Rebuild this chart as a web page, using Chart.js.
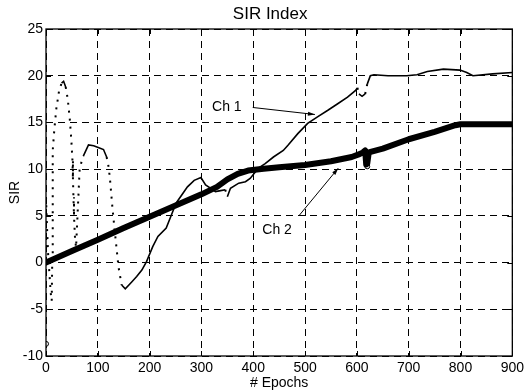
<!DOCTYPE html>
<html>
<head>
<meta charset="utf-8">
<script src="https://cdn.jsdelivr.net/npm/chart.js@4"></script>
<style>
  html, body { margin: 0; padding: 0; background: #fff; }
  #wrap { width: 528px; height: 392px; }
</style>
</head>
<body>
<div id="wrap"><canvas id="sirChart"></canvas></div>
<script>
// Ch 1 (thin line, dotted where it moves fast)
const ch1X = [0, 2, 4, 7, 9, 11, 12, 13, 16, 20, 25, 30, 34, 38, 42, 46, 49, 51, 52, 53, 54, 56, 58,
  65, 72, 82, 92, 102, 111, 117, 121, 124, 128, 133, 140, 146, 153, 165, 175, 185, 194, 206, 216,
  232, 242, 251, 264, 273, 286, 299, 308, 318, 327, 337, 346, 350, 356, 372, 385, 394, 404, 410,
  423, 439, 458, 467, 486, 505, 524, 544, 563, 582, 597, 601, 604, 610, 616, 620, 626, 633, 660,
  696, 716, 736, 767, 799, 812, 824, 862, 900];
const ch1Y = [7.0, 3.7, 1.0, -1.5, -3.2, -4.1, 0, 12.0, 14.2, 16.5, 18.3, 19.2, 19.4, 18.8, 17.5, 15.3, 13.0, 11.0, 9.0, 7.0, 5.0, 2.6, 1.6,
  10.1, 11.4, 12.6, 12.5, 12.3, 12.1, 11.3, 10.2, 8.6, 6.0, 3.2, -0.5, -2.4, -2.8, -2.1, -1.5, -0.8, 0.1, 1.7, 2.8,
  3.7, 5.1, 6.35, 7.4, 8.1, 8.8, 9.1, 8.3, 7.95, 7.6, 7.7, 7.8, 7.05, 7.95, 8.5, 8.65, 9.0, 9.7, 10.1,
  10.6, 11.3, 12.0, 12.55, 13.8, 14.9, 15.6, 16.3, 17.0, 17.7, 18.4, 18.7, 18.05, 17.8, 18.05, 19.1, 20.0, 20.1, 20.0,
  20.0, 20.1, 20.45, 20.7, 20.6, 20.35, 20.0, 20.2, 20.35];

// Ch 2 (thick line)
const ch2X = [0, 50, 100, 150, 200, 250, 300, 330, 350, 370, 390, 420, 450, 500, 550, 590, 605, 612,
  616, 618, 620, 623, 650, 700, 750, 790, 800, 900];
const ch2Y = [0, 1.25, 2.45, 3.7, 4.9, 6.1, 7.3, 8.1, 8.9, 9.5, 9.85, 10.05, 10.2, 10.45, 10.85, 11.3, 11.6, 11.8,
  12.0, 10.5, 10.6, 11.8, 12.2, 13.2, 14.0, 14.7, 14.8, 14.8];

// small "o" markers
const markX = [0, 620];
const markY = [-8.7, 10.3];

const xTicks = [0, 100, 200, 300, 400, 500, 600, 700, 800, 900];
const yTicks = [-10, -5, 0, 5, 10, 15, 20, 25];

// text labels with arrows: [text, textX, textY, fromX, fromY, toX, toY]
const notes = [
  ['Ch 1', 349, 16.6, 399, 16.6, 519, 15.85],
  ['Ch 2', 446, 3.5, 488, 5.0, 564, 10.1]
];

const pts = (xs, ys) => xs.map((x, i) => ({ x: x, y: ys[i] }));
const FONT = '"Liberation Sans", Arial, Helvetica, sans-serif';

// title, box, inward ticks, arrows
const matlabBox = {
  id: 'matlabBox',
  afterDatasetsDraw(chart) {
    const { ctx, chartArea: a, scales: { x, y } } = chart;
    ctx.save();
    ctx.strokeStyle = '#000';
    ctx.lineWidth = 1.3;
    ctx.strokeRect(a.left, a.top, a.width, a.height);
    ctx.lineWidth = 1;
    ctx.beginPath();
    xTicks.forEach(v => {
      const px = Math.round(x.getPixelForValue(v)) + 0.5;
      ctx.moveTo(px, a.bottom); ctx.lineTo(px, a.bottom - 5);
      ctx.moveTo(px, a.top); ctx.lineTo(px, a.top + 5);
    });
    yTicks.forEach(v => {
      const py = Math.round(y.getPixelForValue(v)) + 0.5;
      ctx.moveTo(a.left, py); ctx.lineTo(a.left + 5, py);
      ctx.moveTo(a.right, py); ctx.lineTo(a.right - 5, py);
    });
    ctx.stroke();

    ctx.fillStyle = '#000';
    ctx.textAlign = 'center';
    ctx.textBaseline = 'middle';
    ctx.font = '17px ' + FONT;
    ctx.fillText('SIR Index', (a.left + a.right) / 2 - 9, 14);

    ctx.font = '14px ' + FONT;
    notes.forEach(n => {
      ctx.fillText(n[0], x.getPixelForValue(n[1]), y.getPixelForValue(n[2]));
      const x0 = x.getPixelForValue(n[3]), y0 = y.getPixelForValue(n[4]);
      const x1 = x.getPixelForValue(n[5]), y1 = y.getPixelForValue(n[6]);
      ctx.beginPath();
      ctx.moveTo(x0, y0); ctx.lineTo(x1, y1);
      ctx.stroke();
      const ang = Math.atan2(y1 - y0, x1 - x0);
      ctx.beginPath();
      ctx.moveTo(x1, y1);
      ctx.lineTo(x1 - 7 * Math.cos(ang) + 2 * Math.sin(ang), y1 - 7 * Math.sin(ang) - 2 * Math.cos(ang));
      ctx.lineTo(x1 - 7 * Math.cos(ang) - 2 * Math.sin(ang), y1 - 7 * Math.sin(ang) + 2 * Math.cos(ang));
      ctx.closePath();
      ctx.fill();
    });
    ctx.restore();
  }
};

// dotted where the line is steep on screen
const isSteep = ctx => Math.abs(ctx.p1.y - ctx.p0.y) > 3 * Math.abs(ctx.p1.x - ctx.p0.x);

new Chart(document.getElementById('sirChart'), {
  type: 'line',
  data: {
    datasets: [{
      label: 'Ch 2',
      data: pts(ch2X, ch2Y),
      borderColor: '#000',
      borderWidth: 6,
      borderJoinStyle: 'round',
      borderCapStyle: 'round',
      pointRadius: 0,
      tension: 0
    }, {
      label: 'Ch 1',
      data: pts(ch1X, ch1Y),
      borderColor: '#000',
      borderWidth: 1.6,
      pointRadius: 0,
      tension: 0,
      segment: {
        borderDash: ctx => isSteep(ctx) ? [2, 6] : undefined,
        borderWidth: ctx => isSteep(ctx) ? 2 : undefined
      }
    }, {
      label: 'markers',
      data: pts(markX, markY),
      showLine: false,
      pointStyle: 'circle',
      pointRadius: 2.5,
      pointBorderWidth: 1,
      pointBorderColor: '#000',
      pointBackgroundColor: '#fff'
    }]
  },
  options: {
    responsive: true,
    maintainAspectRatio: false,
    animation: false,
    layout: { padding: { left: 0, right: 12, top: 29, bottom: 0 } },
    plugins: {
      legend: { display: false },
      tooltip: { enabled: false },
      title: { display: false }
    },
    scales: {
      x: {
        type: 'linear',
        min: 0, max: 900,
        afterBuildTicks: s => { s.ticks = xTicks.map(v => ({ value: v })); },
        afterFit: s => { s.height = 36; },
        grid: { color: '#000', lineWidth: 1, drawTicks: false },
        border: { display: false, dash: [7, 5] },
        ticks: { color: '#000', padding: 4, maxRotation: 0, font: { family: FONT, size: 14 } },
        title: { display: true, text: '# Epochs', color: '#000', padding: { top: 0, bottom: 0 }, font: { family: FONT, size: 14 } }
      },
      y: {
        type: 'linear',
        min: -10, max: 25,
        afterBuildTicks: s => { s.ticks = yTicks.map(v => ({ value: v })); },
        afterFit: s => { s.width = 46; },
        grid: { color: '#000', lineWidth: 1, drawTicks: false },
        border: { display: false, dash: [7, 5] },
        ticks: { color: '#000', padding: 3, font: { family: FONT, size: 14 } },
        title: { display: true, text: 'SIR', color: '#000', padding: { top: 7, bottom: 0 }, font: { family: FONT, size: 14 } }
      }
    }
  },
  plugins: [matlabBox]
});
</script>
</body>
</html>
